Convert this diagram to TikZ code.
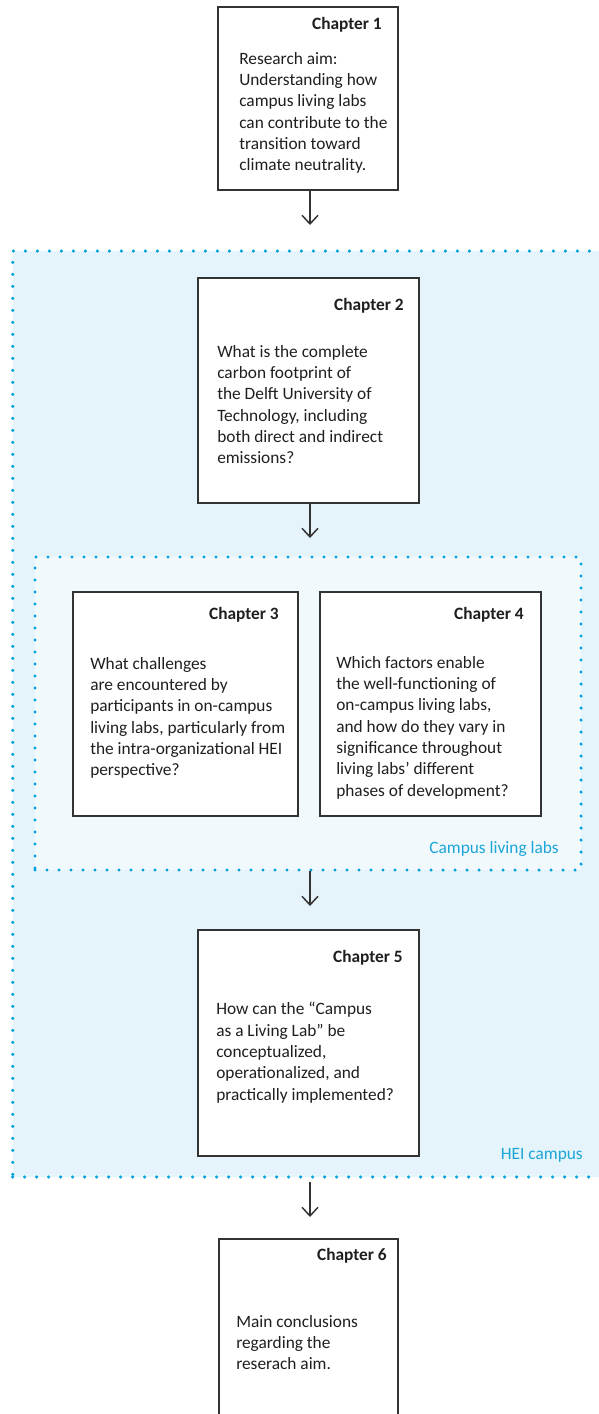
\documentclass[tikz,border=0pt]{standalone}
\usepackage{fontspec}
\setmainfont{Carlito}
\usetikzlibrary{arrows.meta,fit}
\definecolor{dotblue}{HTML}{00A0DA}
\definecolor{hazeout}{HTML}{E5F4FA}
\definecolor{hazein}{HTML}{F1F9FD}
\definecolor{labelblue}{HTML}{1CA5D8}
\definecolor{boxline}{HTML}{333333}
\newcommand\clltext{\fontsize{13pt}{16pt}\selectfont}

\begin{document}
\begin{tikzpicture}[x=0.75pt,y=-0.75pt,
  chapbox/.style={draw=boxline, line width=1.5pt, fill=white, inner sep=0pt},
  zone/.style={draw=dotblue, line width=2.6pt, line cap=round, dash pattern=on 0pt off 9pt, inner sep=0pt},
  title/.style={font=\clltext\bfseries, inner sep=0pt, anchor=base east, text=black!88},
  body/.style={font=\clltext, inner sep=0pt, anchor=north west, align=left, text=black!88},
  zonelabel/.style={font=\clltext, text=labelblue, inner sep=0pt, anchor=base east},
  flow/.style={line width=1.1pt, draw=boxline, -{Straight Barb[length=6.5pt,width=12pt,line width=1.1pt]}}
]
\useasboundingbox (0,0) rectangle (599,1414);
\clip (0,0) rectangle (599,1414);

% campus zones (the outer one runs past the right edge)
\node[zone, fill=hazeout, fit={(12.7,251) (606,1177)}] (hei) {};
\node[zone, fill=hazein, fit={(35,557) (581,870)}] (cll) {};
\node[zonelabel] (heilabel) at (583,1159) {HEI campus};
\node[zonelabel] (clllabel) at (559,853) {Campus living labs};

% chapter boxes
\node[chapbox, fit={(218,7) (398,190)}] (c1) {};
\node[title] (t1) at (382,29) {Chapter 1};
\node[body] (b1) at (239,52) {Research aim:\\Understanding how\\campus living labs\\can contribute to the\\transition toward\\climate neutrality.};

\node[chapbox, fit={(198,278) (419,503)}] (c2) {};
\node[title] (t2) at (404,310) {Chapter 2};
\node[body] (b2) at (217,345) {What is the complete\\carbon footprint of\\the Delft University of\\Technology, including\\both direct and indirect\\emissions?};

\node[chapbox, fit={(73,592) (298,816)}] (c3) {};
\node[title] (t3) at (279,619) {Chapter 3};
\node[body] (b3) at (90,657) {What challenges\\are encountered by\\participants in on-campus\\living labs, particularly from\\the intra-organizational HEI\\perspective?};

\node[chapbox, fit={(320,592) (541,816)}] (c4) {};
\node[title] (t4) at (524,619) {Chapter 4};
\node[body] (b4) at (336,656) {Which factors enable\\the well-functioning of\\on-campus living labs,\\and how do they vary in\\significance throughout\\living labs’ different\\phases of development?};

\node[chapbox, fit={(198,930) (419,1156)}] (c5) {};
\node[title] (t5) at (403,962) {Chapter 5};
\node[body] (b5) at (216,1002) {How can the “Campus\\as a Living Lab” be\\conceptualized,\\operationalized, and\\practically implemented?};

\node[chapbox, fit={(219,1239) (398,1440)}] (c6) {};
\node[title] (t6) at (387,1260) {Chapter 6};
\node[body] (b6) at (236,1315) {Main conclusions\\regarding the\\reserach aim.};

% flow arrows
\coordinate (a1) at (310,190);
\coordinate (a2) at (310,503);
\coordinate (a3) at (310,871);
\coordinate (a4) at (310,1182);
\draw[flow] (a1) -- ++(0,35);
\draw[flow] (a2) -- ++(0,35);
\draw[flow] (a3) -- ++(0,35);
\draw[flow] (a4) -- ++(0,35);
\end{tikzpicture}
\end{document}
